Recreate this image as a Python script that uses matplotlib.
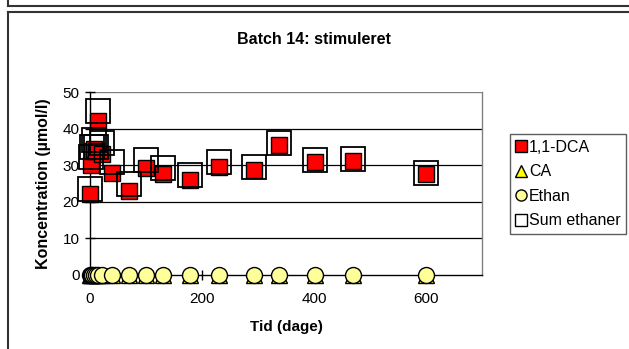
import matplotlib
matplotlib.use("Agg")
import matplotlib.pyplot as plt
from matplotlib.lines import Line2D

plt.rcParams['font.family'] = ['Liberation Sans', 'DejaVu Sans']

# Data
days = [0, 1, 3, 7, 10, 14, 21, 40, 70, 100, 131, 179, 231, 293, 338, 402, 469, 600]
dca = [22, 30, 34, 34.5, 34, 42, 33, 28, 23, 29.3, 27.5, 26, 29.6, 28.7, 35.5, 31, 31.2, 27.6]
ca = [0] * len(days)
ethan = [0] * len(days)
sum_ethaner = [23.6, 32.3, 35, 37, 35, 44.7, 36, 31, 24.8, 31.4, 29.2, 27.2, 30.8, 29.6, 36.2, 31.5, 31.8, 28]
series_names = ["1,1-DCA", "CA", "Ethan", "Sum ethaner"]
x_ticks = [0, 200, 400, 600]
y_ticks = [0, 10, 20, 30, 40, 50]

W, H = 629, 349
fig = plt.figure(figsize=(W / 100, H / 100), dpi=100)

def fx(px):
    return px / W

def fy(py):
    return 1 - py / H

# Frame lines (Excel-style chart borders)
fig.add_artist(Line2D([fx(8), 1], [fy(6), fy(6)], color='#333333', lw=1.5))
fig.add_artist(Line2D([fx(8), fx(8)], [1, fy(6)], color='#333333', lw=1.5))
fig.add_artist(Line2D([fx(8), 1], [fy(12), fy(12)], color='#333333', lw=1.5))
fig.add_artist(Line2D([fx(8), fx(8)], [fy(12), 0], color='#333333', lw=1.5))

left, right, top, bottom = 90, 482, 92, 275
ax = fig.add_axes([fx(left), fy(bottom), (right - left) / W, (bottom - top) / H])

ax.set_xlim(0, 700)
ax.set_ylim(0, 50)
ax.set_xticks(x_ticks)
ax.set_yticks(y_ticks)
for yv in y_ticks[1:-1]:
    ax.axhline(yv, color='black', lw=0.9, zorder=1)
ax.axhline(50, color='#808080', lw=1.0, zorder=1)

ax.plot(days, dca, linestyle='none', marker='s', markersize=11,
        markerfacecolor='#FF0000', markeredgecolor='black', markeredgewidth=1.0,
        clip_on=False, zorder=3, label=series_names[0])
ax.plot(days, ca, linestyle='none', marker='^', markersize=11,
        markerfacecolor='#FFFF00', markeredgecolor='black', markeredgewidth=1.0,
        clip_on=False, zorder=4, label=series_names[1])
ax.plot(days, ethan, linestyle='none', marker='o', markersize=11.5,
        markerfacecolor='#FFFF99', markeredgecolor='black', markeredgewidth=1.0,
        clip_on=False, zorder=5, label=series_names[2])
ax.plot(days, sum_ethaner, linestyle='none', marker='s', markersize=17.5,
        markerfacecolor='none', markeredgecolor='black', markeredgewidth=1.3,
        clip_on=False, zorder=6, label=series_names[3])

ax.spines['top'].set_visible(False)
ax.spines['right'].set_color('#808080')
ax.spines['right'].set_linewidth(1.0)
ax.spines['left'].set_color('black')
ax.spines['bottom'].set_color('black')
ax.spines['left'].set_linewidth(1.0)
ax.spines['bottom'].set_linewidth(1.0)

ax.tick_params(axis='both', direction='inout', length=7, width=1.0,
               labelsize=11, colors='black')
ax.tick_params(axis='x', pad=9)
ax.tick_params(axis='y', pad=4)

ax.set_xlabel('Tid (dage)', fontsize=11, fontweight='bold', labelpad=10)
ax.set_ylabel('Koncentration (µmol/l)', fontsize=11.5, fontweight='bold', labelpad=8)
fig.text(fx(314), fy(40), 'Batch 14: stimuleret', ha='center', va='center',
         fontsize=11.5, fontweight='bold')

handles = [
    Line2D([], [], linestyle='none', marker='s', markersize=8, markerfacecolor='#FF0000',
           markeredgecolor='black', markeredgewidth=1.0),
    Line2D([], [], linestyle='none', marker='^', markersize=8, markerfacecolor='#FFFF00',
           markeredgecolor='black', markeredgewidth=1.0),
    Line2D([], [], linestyle='none', marker='o', markersize=8, markerfacecolor='#FFFF99',
           markeredgecolor='black', markeredgewidth=1.0),
    Line2D([], [], linestyle='none', marker='s', markersize=8, markerfacecolor='white',
           markeredgecolor='black', markeredgewidth=1.0),
]
leg = fig.legend(handles, series_names, loc='upper left',
                 bbox_to_anchor=(fx(510), fy(134)), bbox_transform=fig.transFigure,
                 frameon=True, fancybox=False, fontsize=11.5, handlelength=0.7,
                 handletextpad=0.15, borderpad=0.35, labelspacing=0.6, borderaxespad=0)
leg.get_frame().set_edgecolor('#333333')
leg.get_frame().set_linewidth(1.0)

fig.savefig('out.png', dpi=100)
